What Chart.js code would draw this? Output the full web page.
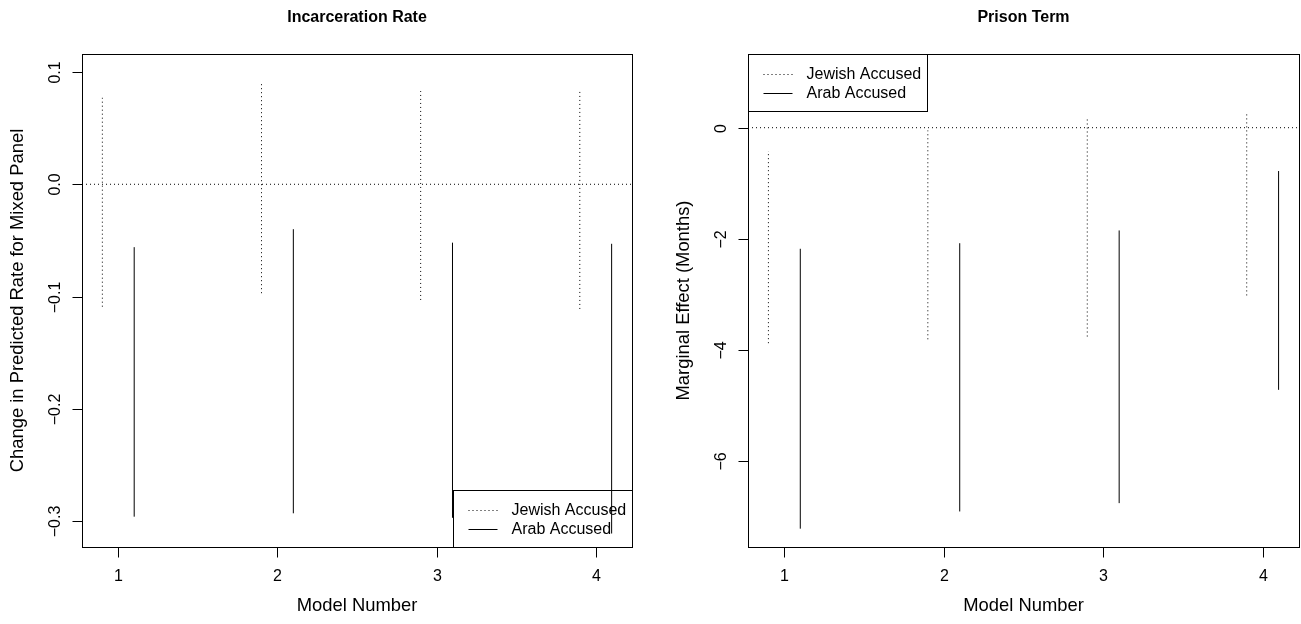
<!DOCTYPE html>
<html>
<head>
<meta charset="utf-8">
<script src="https://cdn.jsdelivr.net/npm/chart.js@4"></script>
<style>
  html, body { margin: 0; padding: 0; background: #fff; }
  #wrap { position: relative; width: 1301px; height: 624px; }
  canvas { position: absolute; top: 0; }
</style>
</head>
<body>
<div id="wrap">
  <canvas id="incChart" width="650" height="624" style="left:0"></canvas>
  <canvas id="termChart" width="651" height="624" style="left:650px"></canvas>
</div>
<script>
// --- data ---
const models = [1, 2, 3, 4];
const seriesNames = ['Jewish Accused', 'Arab Accused'];

// Incarceration rate: interval ends per model
const incJewishLow  = [-0.109, -0.097, -0.103, -0.111];
const incJewishHigh = [0.077, 0.090, 0.083, 0.083];
const incArabLow    = [-0.296, -0.293, -0.297, -0.311];
const incArabHigh   = [-0.056, -0.040, -0.052, -0.053];
const incTicks      = [0.1, 0.0, -0.1, -0.2, -0.3];
const incTickLabels = ['0.1', '0.0', '\u22120.1', '\u22120.2', '\u22120.3'];

// Prison term (months)
const termJewishLow  = [-3.88, -3.81, -3.76, -3.02];
const termJewishHigh = [-0.42, -0.05, 0.18, 0.29];
const termArabLow    = [-7.22, -6.91, -6.76, -4.72];
const termArabHigh   = [-2.18, -2.08, -1.85, -0.78];
const termTicks      = [0, -2, -4, -6];
const termTickLabels = ['0', '\u22122', '\u22124', '\u22126'];

const xTicks = [1, 2, 3, 4];
const jewishShift = -0.1, arabShift = 0.1;

const FONT = '"Liberation Sans", Arial, Helvetica, sans-serif';
const DOT = [1, 3];

// turn low/high arrays into vertical segments separated by gaps
function segments(lo, hi, shift) {
    const pts = [];
    models.forEach((m, i) => {
        pts.push({ x: m + shift, y: lo[i] });
        pts.push({ x: m + shift, y: hi[i] });
        pts.push({ x: m + shift, y: null });
    });
    return pts;
}

// R-like box, ticks, labels, title and legend, placed with the chart's own scales
const rAxes = {
    id: 'rAxes',
    afterDraw(chart, args, opts) {
        const ctx = chart.ctx;
        const a = chart.chartArea;
        const xs = chart.scales.x, ys = chart.scales.y;
        const L = Math.round(a.left) + 0.5, R = Math.round(a.right) + 0.5;
        const T = Math.round(a.top) + 0.5, B = Math.round(a.bottom) + 0.5;
        ctx.save();
        ctx.strokeStyle = '#000';
        ctx.fillStyle = '#000';
        ctx.lineWidth = 1;
        ctx.setLineDash([]);
        ctx.strokeRect(L, T, R - L, B - T);

        // x axis
        ctx.font = '16px ' + FONT;
        ctx.textAlign = 'center';
        ctx.textBaseline = 'middle';
        xTicks.forEach(v => {
            const px = Math.round(xs.getPixelForValue(v)) + 0.5;
            ctx.beginPath(); ctx.moveTo(px, B); ctx.lineTo(px, B + 10); ctx.stroke();
            ctx.fillText(String(v), px, B + 29);
        });

        // y axis
        opts.ticks.forEach((v, i) => {
            const py = Math.round(ys.getPixelForValue(v)) + 0.5;
            ctx.beginPath(); ctx.moveTo(L, py); ctx.lineTo(L - 10, py); ctx.stroke();
            ctx.save();
            ctx.translate(L - 27, py);
            ctx.rotate(-Math.PI / 2);
            ctx.fillText(opts.tickLabels[i], 0, 0);
            ctx.restore();
        });

        // axis titles (slightly larger, like cex.lab)
        ctx.font = '18.4px ' + FONT;
        ctx.fillText('Model Number', (a.left + a.right) / 2, B + 58);
        ctx.save();
        ctx.translate(L - 65, (a.top + a.bottom) / 2);
        ctx.rotate(-Math.PI / 2);
        ctx.fillText(opts.yTitle, 0, 0);
        ctx.restore();

        // title
        ctx.font = 'bold 16px ' + FONT;
        ctx.fillText(opts.title, (a.left + a.right) / 2, 18);

        // legend
        const w = 179, h = 57;
        const lx = opts.legendPos === 'topleft' ? L : R - w;
        const ly = opts.legendPos === 'topleft' ? T : B - h;
        ctx.strokeRect(lx, ly, w, h);
        ctx.font = '16px ' + FONT;
        ctx.textAlign = 'left';
        seriesNames.forEach((name, i) => {
            const ry = Math.round(ly + 19 + i * 19.5) + 0.5;
            ctx.setLineDash(i === 0 ? DOT : []);
            ctx.beginPath(); ctx.moveTo(lx + 15, ry); ctx.lineTo(lx + 44, ry); ctx.stroke();
            ctx.fillText(name, lx + 58, ry);
        });
        ctx.restore();
    }
};

function makeChart(id, cfg) {
    const ds = (data, dash) => ({
        data: data,
        borderColor: '#000',
        borderWidth: 1,
        borderDash: dash,
        pointRadius: 0,
        spanGaps: false,
        tension: 0
    });
    return new Chart(document.getElementById(id), {
        type: 'line',
        data: {
            datasets: [
                ds([{ x: cfg.xMin, y: 0 }, { x: cfg.xMax, y: 0 }], DOT),
                ds(segments(cfg.jLow, cfg.jHigh, jewishShift), DOT),
                ds(segments(cfg.aLow, cfg.aHigh, arabShift), [])
            ]
        },
        options: {
            responsive: false,
            animation: false,
            events: [],
            layout: { padding: cfg.padding },
            scales: {
                x: { type: 'linear', min: cfg.xMin, max: cfg.xMax, display: false },
                y: { type: 'linear', min: cfg.yMin, max: cfg.yMax, display: false }
            },
            plugins: {
                legend: { display: false },
                tooltip: { enabled: false },
                rAxes: {
                    ticks: cfg.ticks, tickLabels: cfg.tickLabels,
                    title: cfg.title, yTitle: cfg.yTitle, legendPos: cfg.legendPos
                }
            }
        },
        plugins: [rAxes]
    });
}

makeChart('incChart', {
    xMin: 0.772, xMax: 4.228, yMin: -0.323, yMax: 0.116,
    jLow: incJewishLow, jHigh: incJewishHigh, aLow: incArabLow, aHigh: incArabHigh,
    ticks: incTicks, tickLabels: incTickLabels,
    title: 'Incarceration Rate', yTitle: 'Change in Predicted Rate for Mixed Panel',
    legendPos: 'bottomright',
    padding: { left: 82, right: 18, top: 54, bottom: 77 }
});

makeChart('termChart', {
    xMin: 0.772, xMax: 4.228, yMin: -7.55, yMax: 1.327,
    jLow: termJewishLow, jHigh: termJewishHigh, aLow: termArabLow, aHigh: termArabHigh,
    ticks: termTicks, tickLabels: termTickLabels,
    title: 'Prison Term', yTitle: 'Marginal Effect (Months)',
    legendPos: 'topleft',
    padding: { left: 98, right: 2, top: 54, bottom: 77 }
});
</script>
</body>
</html>
